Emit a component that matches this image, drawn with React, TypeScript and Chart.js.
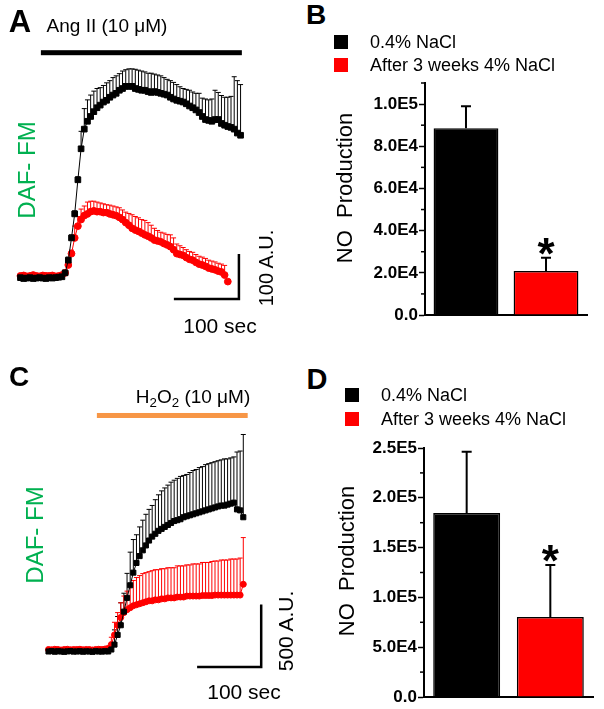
import React, { useEffect, useRef } from 'react';
import { Chart, registerables } from 'chart.js';

Chart.register(...registerables);

const FONT = "'Liberation Sans', Arial, Helvetica, sans-serif";
const RED = '#ff0000';
const BLACK = '#000000';
const GREEN = '#00b050';
const ORANGE = '#f79646';

// Legend / series names for the bar panels
const SERIES = ['0.4% NaCl', 'After 3 weeks 4% NaCl'];
const SERIES_COLORS = [BLACK, RED];

// ---------------- Panel A : Ang II time course (A.U., sampled every 5 s)
const A_STEP_S = 5;
const A_CTRL = [
  -2, -4, -3, -2, -4, -3, -2, -3, -4, -2, -3, -2, -1, 0,
  9, 38, 89, 144, 222, 293, 338, 356, 367, 378, 387, 393, 400, 404, 411, 416,
  420, 427, 431, 436, 436, 436, 431, 429, 427, 427, 424, 422, 424, 422, 420, 418,
  416, 411, 407, 404, 402, 400, 396, 391, 387, 382, 376, 367, 360, 358, 356, 360,
  360, 351, 347, 344, 342, 338, 329, 324,
];
const A_CTRL_ERR = [
  4, 3, 4, 3, 4, 3, 4, 3, 4, 3, 4, 3, 4, 4,
  6, 7, 7, 7, 7,
  40, 47, 49, 49, 47, 44, 40, 38, 40, 38, 40, 40, 38, 40, 38, 40, 40, 44, 44, 44,
  42, 42, 44, 40, 40, 40, 38, 36, 38, 38, 36, 33, 31, 33, 36, 36, 38, 44, 42, 47,
  47, 51, 67, 62, 64, 64, 67, 71, 120, 120, 116,
];
const A_SALT = [
  2, 3, 1, 2, 4, 2, 1, 3, 2, 2, 3, 1, 2, 4,
  9, 27, 53, 89, 116, 131, 140, 144, 149, 151, 149, 149, 147, 147, 144, 142,
  140, 136, 131, 124, 118, 111, 107, 104, 100, 96, 93, 89, 84, 82, 80, 76,
  73, 69, 62, 53, 51, 49, 44, 40, 38, 33, 29, 27, 24, 20, 18, 16, 13, 11, 4, -11,
];
const A_SALT_ERR = [
  3, 3, 3, 3, 3, 3, 3, 3, 3, 3, 3, 3, 3, 3,
  5, 5, 8,
  27, 22, 24, 22, 27, 24, 22, 22, 20, 20, 18, 20, 20, 20, 22, 22, 24, 27, 31, 31,
  31, 31, 33, 31, 29, 27, 24, 22, 24, 24, 27, 27, 22, 20,
  18, 18, 18, 18, 18, 18, 18, 18, 18, 18, 18, 18, 18, 22, 0,
];
// Ang II application bar and scale bar (data units: s, A.U.)
const A_DRUG = { t0: 32, t1: 347, level: 513 };
const A_SCALE = { t: 342.4, v: -51, dt: 100, dv: 100 };

// ---------------- Panel C : H2O2 time course (A.U., sampled every 5 s)
const C_STEP_S = 5;
const C_CTRL = [
  0, 3, -2, 2, 0, -3, 1, 3, -1, 0, 2, -2, 1, 0, -3, 2, 0, -1, 2, 0,
  16, 56, 135, 214, 325, 437, 540, 643, 722, 778, 825, 865, 905, 937, 960, 984,
  1000, 1016, 1032, 1048, 1064, 1071, 1079, 1095, 1103, 1111, 1119, 1127, 1135, 1143,
  1151, 1159, 1167, 1175, 1183, 1190, 1190, 1198, 1206, 1214, 1159, 1151, 1095,
];
const C_CTRL_ERR = [
  8, 6, 8, 7, 8, 6, 7, 8, 6, 8, 7, 8, 6, 8, 7, 6, 8, 7, 8, 6,
  40, 120, 150, 183, 150, 200, 270, 270, 230, 238, 246, 254, 254, 254, 278, 294,
  310, 318, 325, 333, 333, 341, 349, 341, 341, 349, 357, 357, 365, 365,
  373, 373, 373, 373, 373, 373, 381, 373, 373, 373, 468, 484, 675,
];
const C_SALT = [
  16, 14, 18, 16, 12, 16, 18, 14, 16, 16, 18, 14, 16, 16, 12, 16, 18, 16, 20,
  24, 56, 135, 214, 278, 317, 341, 357, 373, 381, 389, 397, 405, 413, 413, 421,
  421, 429, 429, 437, 437, 437, 444, 444, 444, 452, 452, 452, 452, 452, 456, 456,
  456, 456, 460, 460, 460, 460, 460, 460, 460, 460, 460, 548,
];
const C_SALT_ERR = [
  6, 5, 6, 5, 6, 5, 6, 5, 6, 5, 6, 5, 6, 5, 6, 5, 6, 5, 6,
  20, 60, 103, 103, 119, 135, 151, 183, 206, 222, 230, 238, 238, 238, 246, 246,
  246, 246, 246, 246, 246, 246, 254, 254, 254, 254, 254, 262, 262, 262, 270, 270,
  270, 278, 278, 278, 286, 286, 286, 294, 294, 294, 302, 381,
];
const C_DRUG = { t0: 77, t1: 317, level: 1925 };
const C_SCALE = { t: 338.5, v: -127, dt: 100, dv: 500 };

// ---------------- Panel B : NO production (Ang II)
const B_MEANS = [88600, 20900];
const B_ERRS = [10400, 6200];
const B_SIG = [false, true];
const B_Y_MAX = 110000;
const B_MAJOR = 20000;
const B_MINOR = 10000;

// ---------------- Panel D : NO production (H2O2)
const D_MEANS = [184700, 80300];
const D_ERRS = [61500, 52200];
const D_SIG = [false, true];
const D_Y_MAX = 250000;
const D_MAJOR = 50000;
const D_MINOR = 25000;

type Series = {
  mean: number[];
  err: number[];
  step: number;
  color: string;
  shape: 'rect' | 'circle';
  radius: number;
};

type TCProps = {
  left: number; top: number; width: number; height: number;
  xMin: number; xMax: number; yMin: number; yMax: number;
  series: Series[];
  drug: { t0: number; t1: number; level: number };
  drugColor: string;
  scaleBar: { t: number; v: number; dt: number; dv: number };
};

function TimeCourse(p: TCProps) {
  const ref = useRef<HTMLCanvasElement>(null);
  useEffect(() => {
    const canvas = ref.current!;
    const plugin = {
      id: 'tcExtras',
      beforeDatasetsDraw(chart: any) {
        const c = chart.ctx;
        const x = chart.scales.x;
        const y = chart.scales.y;
        c.save();
        c.lineWidth = 1;
        p.series.forEach((s) => {
          c.strokeStyle = s.color;
          s.mean.forEach((m, i) => {
            const e = s.err[i];
            if (!e) return;
            const px = x.getPixelForValue(i * s.step);
            const p0 = y.getPixelForValue(m);
            const p1 = y.getPixelForValue(m + e);
            c.beginPath();
            c.moveTo(px, p0);
            c.lineTo(px, p1);
            c.moveTo(px - 2.5, p1);
            c.lineTo(px + 2.5, p1);
            c.stroke();
          });
        });
        c.restore();
      },
      afterDraw(chart: any) {
        const c = chart.ctx;
        const x = chart.scales.x;
        const y = chart.scales.y;
        c.save();
        // drug application bar
        const yb = y.getPixelForValue(p.drug.level);
        c.fillStyle = p.drugColor;
        c.fillRect(x.getPixelForValue(p.drug.t0), yb - 2.5, x.getPixelForValue(p.drug.t1) - x.getPixelForValue(p.drug.t0), 5);
        // scale bar
        const sb = p.scaleBar;
        const xr = x.getPixelForValue(sb.t);
        const xl = x.getPixelForValue(sb.t - sb.dt);
        const yb0 = y.getPixelForValue(sb.v);
        const yt = y.getPixelForValue(sb.v + sb.dv);
        c.strokeStyle = '#000';
        c.lineWidth = 2.5;
        c.lineCap = 'square';
        c.beginPath();
        c.moveTo(xl, yb0);
        c.lineTo(xr, yb0);
        c.lineTo(xr, yt);
        c.stroke();
        c.restore();
      },
    };
    const chart = new Chart(canvas, {
      type: 'line',
      data: {
        datasets: p.series.map((s) => ({
          data: s.mean.map((m, i) => ({ x: i * s.step, y: m })),
          borderColor: s.color,
          backgroundColor: s.color,
          borderWidth: 1,
          pointStyle: s.shape,
          pointRadius: s.radius,
          pointBorderWidth: 1,
          pointBackgroundColor: s.color,
          pointBorderColor: s.color,
          tension: 0,
          fill: false,
        })),
      },
      options: {
        responsive: false,
        animation: false,
        events: [],
        layout: { padding: 0 },
        plugins: { legend: { display: false }, tooltip: { enabled: false } },
        scales: {
          x: { type: 'linear', display: false, min: p.xMin, max: p.xMax },
          y: { type: 'linear', display: false, min: p.yMin, max: p.yMax },
        },
      },
      plugins: [plugin],
    } as any);
    return () => chart.destroy();
  }, []);
  return (
    <canvas
      ref={ref}
      width={p.width}
      height={p.height}
      style={{ position: 'absolute', left: p.left, top: p.top, width: p.width, height: p.height }}
    />
  );
}

function fmtSci(v: number) {
  if (v === 0) return '0.0';
  const e = Math.floor(Math.log10(v) + 1e-9);
  const m = v / Math.pow(10, e);
  return m.toFixed(1) + 'E' + e;
}

function isMajor(v: number, major: number) {
  const r = v / major;
  return Math.abs(r - Math.round(r)) < 1e-6;
}

type BarProps = {
  left: number; top: number; width: number; height: number;
  pad: { top: number; right: number; bottom: number };
  axisWidth: number;
  means: number[]; errs: number[]; sig: boolean[];
  yMax: number; major: number; minor: number;
  catPct: number; barPct: number;
};

function BarPanel(p: BarProps) {
  const ref = useRef<HTMLCanvasElement>(null);
  useEffect(() => {
    const canvas = ref.current!;
    const plugin = {
      id: 'barExtras',
      afterDatasetsDraw(chart: any) {
        const c = chart.ctx;
        const y = chart.scales.y;
        const area = chart.chartArea;
        c.save();
        c.strokeStyle = '#000';
        c.fillStyle = '#000';
        p.means.forEach((m, k) => {
          const el = chart.getDatasetMeta(k).data[0];
          const topPx = y.getPixelForValue(m + p.errs[k]);
          c.lineWidth = 2;
          c.beginPath();
          c.moveTo(el.x, el.y);
          c.lineTo(el.x, topPx);
          c.moveTo(el.x - 5, topPx);
          c.lineTo(el.x + 5, topPx);
          c.stroke();
          if (p.sig[k]) {
            c.font = `bold 44px ${FONT}`;
            c.textAlign = 'center';
            c.textBaseline = 'alphabetic';
            c.fillText('*', el.x, topPx + 11);
          }
        });
        // short minor ticks
        c.lineWidth = 1.5;
        y.ticks.forEach((t: any) => {
          if (isMajor(t.value, p.major)) return;
          const py = y.getPixelForValue(t.value);
          c.beginPath();
          c.moveTo(area.left - 4, py);
          c.lineTo(area.left, py);
          c.stroke();
        });
        c.restore();
      },
    };
    const chart = new Chart(canvas, {
      type: 'bar',
      data: {
        labels: [''],
        datasets: SERIES.map((name, k) => ({
          label: name,
          data: [p.means[k]],
          backgroundColor: SERIES_COLORS[k],
          borderColor: '#000',
          borderWidth: 1.5,
          categoryPercentage: p.catPct,
          barPercentage: p.barPct,
        })),
      },
      options: {
        responsive: false,
        animation: false,
        events: [],
        layout: { padding: { left: 0, right: p.pad.right, top: p.pad.top, bottom: p.pad.bottom } },
        plugins: { legend: { display: false }, tooltip: { enabled: false } },
        scales: {
          x: {
            type: 'category',
            grid: { display: false, drawTicks: false },
            ticks: { display: false },
            border: { display: true, color: '#000', width: 2 },
            afterFit: (s: any) => { s.height = 0; },
          },
          y: {
            type: 'linear',
            min: 0,
            max: p.yMax,
            afterFit: (s: any) => { s.width = p.axisWidth; },
            ticks: {
              stepSize: p.minor,
              autoSkip: false,
              maxTicksLimit: 40,
              color: '#000',
              padding: 1,
              font: { family: FONT, size: 17, weight: 'bold' },
              callback: (v: any) => (isMajor(Number(v), p.major) ? fmtSci(Number(v)) : ''),
            },
            grid: {
              drawOnChartArea: false,
              drawTicks: true,
              tickLength: 6,
              tickWidth: 1.5,
              tickColor: (ctx: any) =>
                ctx.tick && isMajor(ctx.tick.value, p.major) ? '#000' : 'rgba(0,0,0,0)',
            },
            border: { display: true, color: '#000', width: 2 },
          },
        },
      },
      plugins: [plugin],
    } as any);
    return () => chart.destroy();
  }, []);
  return (
    <canvas
      ref={ref}
      width={p.width}
      height={p.height}
      style={{ position: 'absolute', left: p.left, top: p.top, width: p.width, height: p.height }}
    />
  );
}

type LabelProps = {
  x: number; y: number; size: number; bold?: boolean; color?: string;
  rotate?: boolean; align?: 'center' | 'left'; children: React.ReactNode;
};

function Label({ x, y, size, bold, color, rotate, align, children }: LabelProps) {
  const tx = align === 'left' ? '0' : '-50%';
  return (
    <div
      style={{
        position: 'absolute',
        left: x,
        top: y,
        transform: `translate(${tx}, -50%)${rotate ? ' rotate(-90deg)' : ''}`,
        fontSize: size,
        fontWeight: bold ? 700 : 400,
        color: color || '#000',
        lineHeight: 1,
        whiteSpace: 'nowrap',
        fontFamily: FONT,
      }}
    >
      {children}
    </div>
  );
}

function Legend({ x, y, gap }: { x: number; y: number; gap: number }) {
  return (
    <>
      {SERIES.map((name, k) => (
        <React.Fragment key={name}>
          <div
            style={{
              position: 'absolute',
              left: x,
              top: y + k * gap - 7,
              width: 14,
              height: 14,
              background: SERIES_COLORS[k],
            }}
          />
          <Label x={x + 36} y={y + k * gap} size={18} align="left">
            {name}
          </Label>
        </React.Fragment>
      ))}
    </>
  );
}

export default function App() {
  const sub = { fontSize: '0.7em', position: 'relative' as const, top: '0.3em' };
  return (
    <div
      style={{
        position: 'absolute',
        left: 0,
        top: 0,
        width: 604,
        height: 709,
        background: '#fff',
        overflow: 'hidden',
        fontFamily: FONT,
      }}
    >
      <TimeCourse
        left={0} top={0} width={300} height={340}
        xMin={-24.24} xMax={430.3} yMin={-133.3} yMax={622.2}
        series={[
          { mean: A_CTRL, err: A_CTRL_ERR, step: A_STEP_S, color: BLACK, shape: 'rect', radius: 4 },
          { mean: A_SALT, err: A_SALT_ERR, step: A_STEP_S, color: RED, shape: 'circle', radius: 3.4 },
        ]}
        drug={A_DRUG}
        drugColor={BLACK}
        scaleBar={A_SCALE}
      />
      <TimeCourse
        left={0} top={340} width={300} height={369}
        xMin={-69.23} xMax={392.3} yMin={-428.6} yMax={2500}
        series={[
          { mean: C_CTRL, err: C_CTRL_ERR, step: C_STEP_S, color: BLACK, shape: 'rect', radius: 3.6 },
          { mean: C_SALT, err: C_SALT_ERR, step: C_STEP_S, color: RED, shape: 'circle', radius: 3 },
        ]}
        drug={C_DRUG}
        drugColor={ORANGE}
        scaleBar={C_SCALE}
      />
      <BarPanel
        left={300} top={70} width={304} height={260}
        pad={{ top: 13, right: 17, bottom: 15 }}
        axisWidth={125}
        means={B_MEANS} errs={B_ERRS} sig={B_SIG}
        yMax={B_Y_MAX} major={B_MAJOR} minor={B_MINOR}
        catPct={0.988} barPct={0.81}
      />
      <BarPanel
        left={300} top={430} width={304} height={279}
        pad={{ top: 18, right: 11, bottom: 12 }}
        axisWidth={124}
        means={D_MEANS} errs={D_ERRS} sig={D_SIG}
        yMax={D_Y_MAX} major={D_MAJOR} minor={D_MINOR}
        catPct={0.99} barPct={0.8}
      />

      {/* panel letters */}
      <Label x={20} y={21} size={31} bold>A</Label>
      <Label x={316} y={15} size={28} bold>B</Label>
      <Label x={19} y={377} size={28} bold>C</Label>
      <Label x={317} y={379} size={29} bold>D</Label>

      {/* panel A annotations */}
      <Label x={107} y={25} size={19}>Ang II (10 μM)</Label>
      <Label x={27} y={170} size={24} color={GREEN} rotate>DAF- FM</Label>
      <Label x={266} y={268} size={20} rotate>100 A.U.</Label>
      <Label x={220} y={325} size={21}>100 sec</Label>

      {/* panel C annotations */}
      <Label x={193} y={396} size={19}>
        H<span style={sub}>2</span>O<span style={sub}>2</span> (10 μM)
      </Label>
      <Label x={35} y={535} size={24} color={GREEN} rotate>DAF- FM</Label>
      <Label x={285} y={631} size={21} rotate>500 A.U.</Label>
      <Label x={244} y={691} size={21}>100 sec</Label>

      {/* panel B */}
      <Legend x={334} y={42} gap={23} />
      <Label x={345} y={188} size={22} rotate>NO&nbsp;&nbsp;Production</Label>

      {/* panel D */}
      <Legend x={345} y={395} gap={24} />
      <Label x={347} y={561} size={22} rotate>NO&nbsp;&nbsp;Production</Label>
    </div>
  );
}
